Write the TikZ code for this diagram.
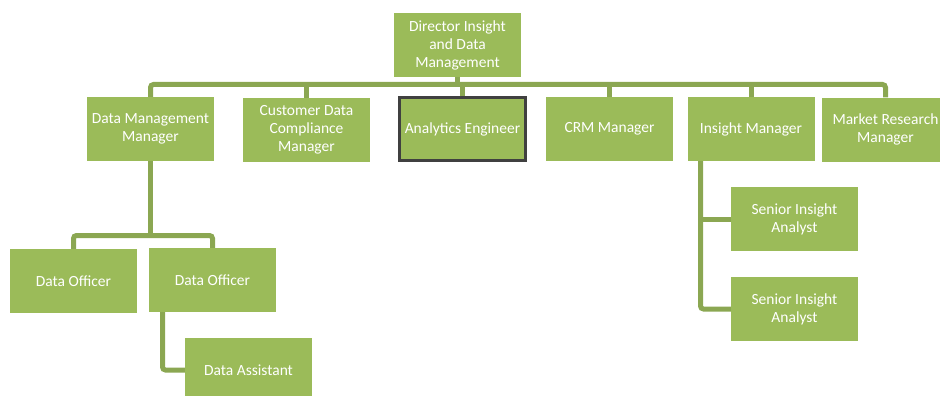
\documentclass[tikz,border=0pt]{standalone}
\usepackage{fontspec}
\setmainfont{Carlito}
\begin{document}
\begin{tikzpicture}[x=1pt,y=-1pt,
  box/.style={fill=boxgreen, text=white, minimum width=127pt, minimum height=64pt, inner sep=0pt, align=center, font=\fontsize{15.5}{18}\selectfont},
  conn/.style={draw=linegreen, line width=5pt, rounded corners=3pt}]
\definecolor{boxgreen}{HTML}{9BBB59}
\definecolor{linegreen}{HTML}{8BA752}
\definecolor{framegray}{HTML}{404040}
\useasboundingbox (0,0) rectangle (940,396);
\clip (0,0) rectangle (940,396);
% nodes
\node[box] (dir) at (457.5,45) {Director Insight\\and Data\\Management};
\node[box] (dmm) at (150.5,129) {Data Management\\Manager};
\node[box] (cdm) at (306.5,130) {Customer Data\\Compliance\\Manager};
\node[box, draw=framegray, line width=2.5pt, minimum width=126pt, minimum height=63pt] (ae) at (462.5,129) {Analytics Engineer};
\node[box] (crm) at (609.5,129) {CRM Manager};
\node[box] (im) at (751,129) {Insight Manager};
\node[box] (mrm) at (885.5,129.5) {Market Research\\Manager};
\node[box] (do1) at (73.5,281) {Data Officer};
\node[box] (do2) at (212.5,280) {Data Officer};
\node[box] (da) at (248.5,370) {Data Assistant};
\node[box] (sia1) at (794.5,219) {Senior Insight\\Analyst};
\node[box] (sia2) at (794.5,309) {Senior Insight\\Analyst};
% coordinates
\coordinate (busY) at (0,84.5);
\coordinate (dmY) at (0,235.5);
% connectors
\draw[conn] (dmm.north) -- (dmm.north |- busY) -- (mrm.north |- busY) -- (mrm.north);
\draw[conn, rounded corners=0pt] (dir.south) -- (dir.south |- busY);
\draw[conn, rounded corners=0pt] (cdm.north) -- (cdm.north |- busY);
\draw[conn, rounded corners=0pt] (ae.north) -- (ae.north |- busY);
\draw[conn, rounded corners=0pt] (crm.north) -- (crm.north |- busY);
\draw[conn, rounded corners=0pt] (im.north) -- (im.north |- busY);
\draw[conn, rounded corners=0pt] (dmm.south) -- (dmm.south |- dmY);
\draw[conn] (do1.north) -- (do1.north |- dmY) -- (do2.north |- dmY) -- (do2.north);
\draw[conn] ([xshift=-50pt]do2.south) |- (da.west);
\draw[conn] ([xshift=-50.5pt]im.south) |- (sia2.west);
\draw[conn, rounded corners=0pt] ([xshift=-50.5pt]im.south |- sia1.west) -- (sia1.west);
\end{tikzpicture}
\end{document}
